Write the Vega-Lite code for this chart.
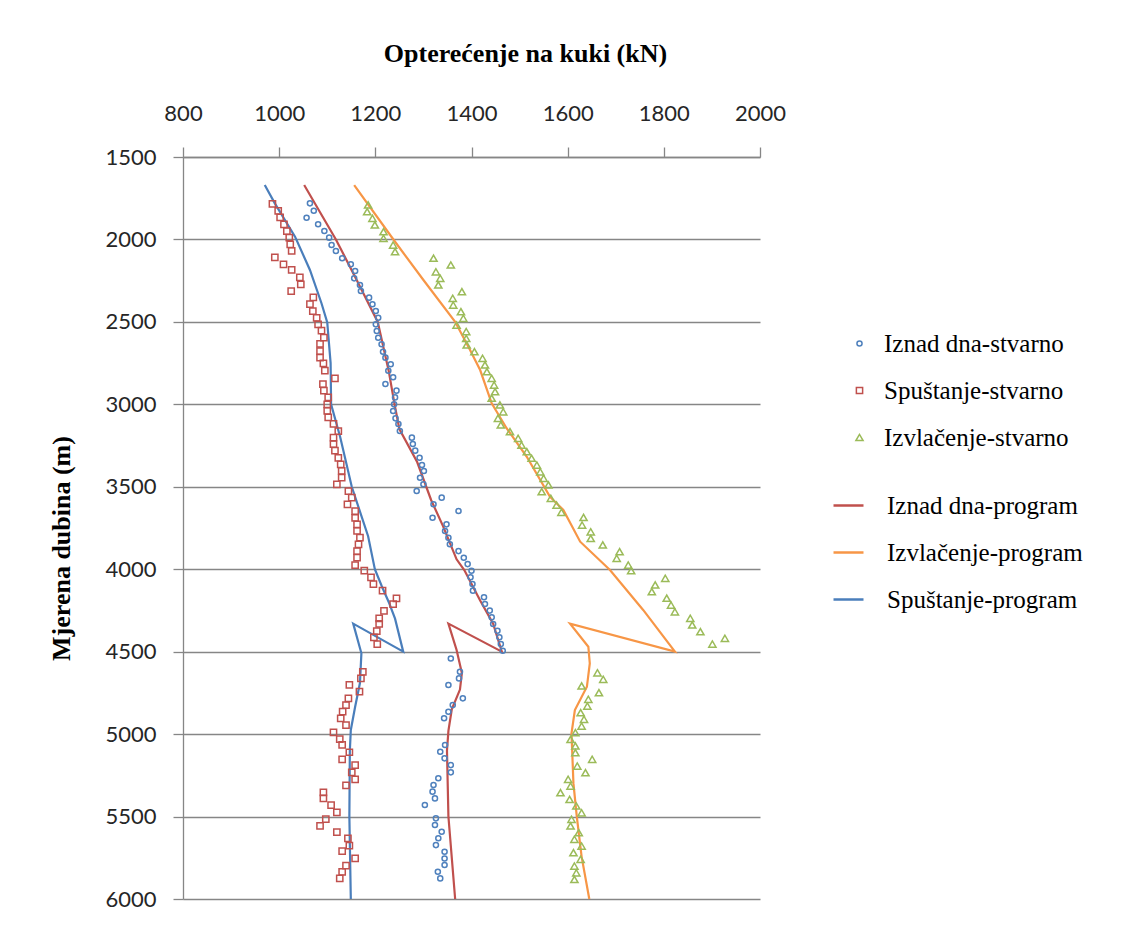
{
  "$schema": "https://vega.github.io/schema/vega-lite/v6.json",
  "autosize": {"type": "none"},
  "width": 577,
  "height": 742,
  "padding": {"left": 183, "top": 157, "right": 376, "bottom": 39},
  "background": "white",
  "config": {
    "view": {"stroke": null},
    "axis": {
      "domainColor": "#868686", "tickColor": "#868686", "gridColor": "#868686",
      "domainWidth": 1.3, "tickWidth": 1.3, "gridWidth": 1.3, "tickSize": 10,
      "labelFont": "Lato", "labelFontSize": 22, "labelColor": "#262626",
      "titleFont": "Liberation Serif", "titleFontSize": 26, "titleFontWeight": "bold", "titleColor": "black"
    },
    "legend": {
      "orient": "none", "padding": 0,
      "labelFont": "Liberation Serif", "labelFontSize": 25, "labelColor": "black", "labelLimit": 0,
      "labelOffset": 22
    }
  },
  "resolve": {
    "scale": {"color": "independent", "shape": "independent", "size": "independent"},
    "legend": {"color": "independent", "shape": "independent"}
  },
  "datasets": {
    "stvarno": [
      {"serija": "Iznad dna-stvarno", "opterecenje": 1064, "dubina": 1781},
      {"serija": "Iznad dna-stvarno", "opterecenje": 1072, "dubina": 1826},
      {"serija": "Iznad dna-stvarno", "opterecenje": 1057, "dubina": 1868},
      {"serija": "Iznad dna-stvarno", "opterecenje": 1081, "dubina": 1908},
      {"serija": "Iznad dna-stvarno", "opterecenje": 1094, "dubina": 1949},
      {"serija": "Iznad dna-stvarno", "opterecenje": 1104, "dubina": 1989},
      {"serija": "Iznad dna-stvarno", "opterecenje": 1109, "dubina": 2034},
      {"serija": "Iznad dna-stvarno", "opterecenje": 1118, "dubina": 2070},
      {"serija": "Iznad dna-stvarno", "opterecenje": 1131, "dubina": 2114},
      {"serija": "Iznad dna-stvarno", "opterecenje": 1149, "dubina": 2151},
      {"serija": "Iznad dna-stvarno", "opterecenje": 1158, "dubina": 2191},
      {"serija": "Iznad dna-stvarno", "opterecenje": 1156, "dubina": 2236},
      {"serija": "Iznad dna-stvarno", "opterecenje": 1168, "dubina": 2276},
      {"serija": "Iznad dna-stvarno", "opterecenje": 1170, "dubina": 2313},
      {"serija": "Iznad dna-stvarno", "opterecenje": 1187, "dubina": 2353},
      {"serija": "Iznad dna-stvarno", "opterecenje": 1194, "dubina": 2393},
      {"serija": "Iznad dna-stvarno", "opterecenje": 1201, "dubina": 2434},
      {"serija": "Iznad dna-stvarno", "opterecenje": 1206, "dubina": 2475},
      {"serija": "Iznad dna-stvarno", "opterecenje": 1201, "dubina": 2515},
      {"serija": "Iznad dna-stvarno", "opterecenje": 1203, "dubina": 2555},
      {"serija": "Iznad dna-stvarno", "opterecenje": 1206, "dubina": 2596},
      {"serija": "Iznad dna-stvarno", "opterecenje": 1213, "dubina": 2636},
      {"serija": "Iznad dna-stvarno", "opterecenje": 1216, "dubina": 2681},
      {"serija": "Iznad dna-stvarno", "opterecenje": 1221, "dubina": 2717},
      {"serija": "Iznad dna-stvarno", "opterecenje": 1232, "dubina": 2757},
      {"serija": "Iznad dna-stvarno", "opterecenje": 1227, "dubina": 2796},
      {"serija": "Iznad dna-stvarno", "opterecenje": 1237, "dubina": 2836},
      {"serija": "Iznad dna-stvarno", "opterecenje": 1221, "dubina": 2877},
      {"serija": "Iznad dna-stvarno", "opterecenje": 1244, "dubina": 2917},
      {"serija": "Iznad dna-stvarno", "opterecenje": 1241, "dubina": 2958},
      {"serija": "Iznad dna-stvarno", "opterecenje": 1239, "dubina": 3000},
      {"serija": "Iznad dna-stvarno", "opterecenje": 1237, "dubina": 3040},
      {"serija": "Iznad dna-stvarno", "opterecenje": 1242, "dubina": 3085},
      {"serija": "Iznad dna-stvarno", "opterecenje": 1248, "dubina": 3119},
      {"serija": "Iznad dna-stvarno", "opterecenje": 1251, "dubina": 3162},
      {"serija": "Iznad dna-stvarno", "opterecenje": 1276, "dubina": 3202},
      {"serija": "Iznad dna-stvarno", "opterecenje": 1278, "dubina": 3241},
      {"serija": "Iznad dna-stvarno", "opterecenje": 1283, "dubina": 3281},
      {"serija": "Iznad dna-stvarno", "opterecenje": 1292, "dubina": 3324},
      {"serija": "Iznad dna-stvarno", "opterecenje": 1297, "dubina": 3368},
      {"serija": "Iznad dna-stvarno", "opterecenje": 1301, "dubina": 3404},
      {"serija": "Iznad dna-stvarno", "opterecenje": 1293, "dubina": 3445},
      {"serija": "Iznad dna-stvarno", "opterecenje": 1300, "dubina": 3485},
      {"serija": "Iznad dna-stvarno", "opterecenje": 1286, "dubina": 3526},
      {"serija": "Iznad dna-stvarno", "opterecenje": 1338, "dubina": 3566},
      {"serija": "Iznad dna-stvarno", "opterecenje": 1321, "dubina": 3606},
      {"serija": "Iznad dna-stvarno", "opterecenje": 1373, "dubina": 3647},
      {"serija": "Iznad dna-stvarno", "opterecenje": 1319, "dubina": 3688},
      {"serija": "Iznad dna-stvarno", "opterecenje": 1348, "dubina": 3728},
      {"serija": "Iznad dna-stvarno", "opterecenje": 1345, "dubina": 3768},
      {"serija": "Iznad dna-stvarno", "opterecenje": 1352, "dubina": 3809},
      {"serija": "Iznad dna-stvarno", "opterecenje": 1355, "dubina": 3849},
      {"serija": "Iznad dna-stvarno", "opterecenje": 1373, "dubina": 3890},
      {"serija": "Iznad dna-stvarno", "opterecenje": 1384, "dubina": 3930},
      {"serija": "Iznad dna-stvarno", "opterecenje": 1392, "dubina": 3969},
      {"serija": "Iznad dna-stvarno", "opterecenje": 1400, "dubina": 4009},
      {"serija": "Iznad dna-stvarno", "opterecenje": 1398, "dubina": 4049},
      {"serija": "Iznad dna-stvarno", "opterecenje": 1402, "dubina": 4090},
      {"serija": "Iznad dna-stvarno", "opterecenje": 1403, "dubina": 4130},
      {"serija": "Iznad dna-stvarno", "opterecenje": 1426, "dubina": 4170},
      {"serija": "Iznad dna-stvarno", "opterecenje": 1428, "dubina": 4211},
      {"serija": "Iznad dna-stvarno", "opterecenje": 1438, "dubina": 4251},
      {"serija": "Iznad dna-stvarno", "opterecenje": 1442, "dubina": 4292},
      {"serija": "Iznad dna-stvarno", "opterecenje": 1445, "dubina": 4332},
      {"serija": "Iznad dna-stvarno", "opterecenje": 1454, "dubina": 4373},
      {"serija": "Iznad dna-stvarno", "opterecenje": 1458, "dubina": 4413},
      {"serija": "Iznad dna-stvarno", "opterecenje": 1461, "dubina": 4454},
      {"serija": "Iznad dna-stvarno", "opterecenje": 1465, "dubina": 4494},
      {"serija": "Iznad dna-stvarno", "opterecenje": 1357, "dubina": 4541},
      {"serija": "Iznad dna-stvarno", "opterecenje": 1376, "dubina": 4622},
      {"serija": "Iznad dna-stvarno", "opterecenje": 1374, "dubina": 4662},
      {"serija": "Iznad dna-stvarno", "opterecenje": 1352, "dubina": 4702},
      {"serija": "Iznad dna-stvarno", "opterecenje": 1382, "dubina": 4783},
      {"serija": "Iznad dna-stvarno", "opterecenje": 1361, "dubina": 4824},
      {"serija": "Iznad dna-stvarno", "opterecenje": 1352, "dubina": 4864},
      {"serija": "Iznad dna-stvarno", "opterecenje": 1343, "dubina": 4904},
      {"serija": "Iznad dna-stvarno", "opterecenje": 1345, "dubina": 5066},
      {"serija": "Iznad dna-stvarno", "opterecenje": 1335, "dubina": 5107},
      {"serija": "Iznad dna-stvarno", "opterecenje": 1344, "dubina": 5147},
      {"serija": "Iznad dna-stvarno", "opterecenje": 1357, "dubina": 5188},
      {"serija": "Iznad dna-stvarno", "opterecenje": 1357, "dubina": 5232},
      {"serija": "Iznad dna-stvarno", "opterecenje": 1331, "dubina": 5268},
      {"serija": "Iznad dna-stvarno", "opterecenje": 1321, "dubina": 5309},
      {"serija": "Iznad dna-stvarno", "opterecenje": 1319, "dubina": 5349},
      {"serija": "Iznad dna-stvarno", "opterecenje": 1324, "dubina": 5390},
      {"serija": "Iznad dna-stvarno", "opterecenje": 1303, "dubina": 5430},
      {"serija": "Iznad dna-stvarno", "opterecenje": 1326, "dubina": 5511},
      {"serija": "Iznad dna-stvarno", "opterecenje": 1324, "dubina": 5551},
      {"serija": "Iznad dna-stvarno", "opterecenje": 1338, "dubina": 5592},
      {"serija": "Iznad dna-stvarno", "opterecenje": 1331, "dubina": 5632},
      {"serija": "Iznad dna-stvarno", "opterecenje": 1326, "dubina": 5673},
      {"serija": "Iznad dna-stvarno", "opterecenje": 1344, "dubina": 5713},
      {"serija": "Iznad dna-stvarno", "opterecenje": 1344, "dubina": 5754},
      {"serija": "Iznad dna-stvarno", "opterecenje": 1344, "dubina": 5794},
      {"serija": "Iznad dna-stvarno", "opterecenje": 1330, "dubina": 5835},
      {"serija": "Iznad dna-stvarno", "opterecenje": 1335, "dubina": 5875},

      {"serija": "Spuštanje-stvarno", "opterecenje": 986, "dubina": 1785},
      {"serija": "Spuštanje-stvarno", "opterecenje": 998, "dubina": 1826},
      {"serija": "Spuštanje-stvarno", "opterecenje": 1002, "dubina": 1866},
      {"serija": "Spuštanje-stvarno", "opterecenje": 1010, "dubina": 1908},
      {"serija": "Spuštanje-stvarno", "opterecenje": 1016, "dubina": 1949},
      {"serija": "Spuštanje-stvarno", "opterecenje": 1021, "dubina": 1989},
      {"serija": "Spuštanje-stvarno", "opterecenje": 1023, "dubina": 2030},
      {"serija": "Spuštanje-stvarno", "opterecenje": 1026, "dubina": 2070},
      {"serija": "Spuštanje-stvarno", "opterecenje": 991, "dubina": 2108},
      {"serija": "Spuštanje-stvarno", "opterecenje": 1009, "dubina": 2151},
      {"serija": "Spuštanje-stvarno", "opterecenje": 1026, "dubina": 2185},
      {"serija": "Spuštanje-stvarno", "opterecenje": 1043, "dubina": 2230},
      {"serija": "Spuštanje-stvarno", "opterecenje": 1045, "dubina": 2272},
      {"serija": "Spuštanje-stvarno", "opterecenje": 1025, "dubina": 2313},
      {"serija": "Spuštanje-stvarno", "opterecenje": 1071, "dubina": 2351},
      {"serija": "Spuštanje-stvarno", "opterecenje": 1064, "dubina": 2393},
      {"serija": "Spuštanje-stvarno", "opterecenje": 1070, "dubina": 2434},
      {"serija": "Spuštanje-stvarno", "opterecenje": 1078, "dubina": 2475},
      {"serija": "Spuštanje-stvarno", "opterecenje": 1081, "dubina": 2515},
      {"serija": "Spuštanje-stvarno", "opterecenje": 1088, "dubina": 2553},
      {"serija": "Spuštanje-stvarno", "opterecenje": 1093, "dubina": 2596},
      {"serija": "Spuštanje-stvarno", "opterecenje": 1085, "dubina": 2634},
      {"serija": "Spuštanje-stvarno", "opterecenje": 1085, "dubina": 2677},
      {"serija": "Spuštanje-stvarno", "opterecenje": 1085, "dubina": 2717},
      {"serija": "Spuštanje-stvarno", "opterecenje": 1092, "dubina": 2751},
      {"serija": "Spuštanje-stvarno", "opterecenje": 1095, "dubina": 2796},
      {"serija": "Spuštanje-stvarno", "opterecenje": 1116, "dubina": 2842},
      {"serija": "Spuštanje-stvarno", "opterecenje": 1091, "dubina": 2877},
      {"serija": "Spuštanje-stvarno", "opterecenje": 1093, "dubina": 2917},
      {"serija": "Spuštanje-stvarno", "opterecenje": 1102, "dubina": 2958},
      {"serija": "Spuštanje-stvarno", "opterecenje": 1100, "dubina": 3000},
      {"serija": "Spuštanje-stvarno", "opterecenje": 1100, "dubina": 3040},
      {"serija": "Spuštanje-stvarno", "opterecenje": 1102, "dubina": 3079},
      {"serija": "Spuštanje-stvarno", "opterecenje": 1113, "dubina": 3119},
      {"serija": "Spuštanje-stvarno", "opterecenje": 1123, "dubina": 3162},
      {"serija": "Spuštanje-stvarno", "opterecenje": 1113, "dubina": 3202},
      {"serija": "Spuštanje-stvarno", "opterecenje": 1113, "dubina": 3241},
      {"serija": "Spuštanje-stvarno", "opterecenje": 1116, "dubina": 3281},
      {"serija": "Spuštanje-stvarno", "opterecenje": 1123, "dubina": 3324},
      {"serija": "Spuštanje-stvarno", "opterecenje": 1128, "dubina": 3364},
      {"serija": "Spuštanje-stvarno", "opterecenje": 1130, "dubina": 3404},
      {"serija": "Spuštanje-stvarno", "opterecenje": 1130, "dubina": 3445},
      {"serija": "Spuštanje-stvarno", "opterecenje": 1120, "dubina": 3485},
      {"serija": "Spuštanje-stvarno", "opterecenje": 1144, "dubina": 3526},
      {"serija": "Spuštanje-stvarno", "opterecenje": 1151, "dubina": 3566},
      {"serija": "Spuštanje-stvarno", "opterecenje": 1142, "dubina": 3606},
      {"serija": "Spuštanje-stvarno", "opterecenje": 1158, "dubina": 3647},
      {"serija": "Spuštanje-stvarno", "opterecenje": 1158, "dubina": 3688},
      {"serija": "Spuštanje-stvarno", "opterecenje": 1162, "dubina": 3728},
      {"serija": "Spuštanje-stvarno", "opterecenje": 1162, "dubina": 3768},
      {"serija": "Spuštanje-stvarno", "opterecenje": 1168, "dubina": 3809},
      {"serija": "Spuštanje-stvarno", "opterecenje": 1165, "dubina": 3849},
      {"serija": "Spuštanje-stvarno", "opterecenje": 1162, "dubina": 3890},
      {"serija": "Spuštanje-stvarno", "opterecenje": 1162, "dubina": 3930},
      {"serija": "Spuštanje-stvarno", "opterecenje": 1158, "dubina": 3975},
      {"serija": "Spuštanje-stvarno", "opterecenje": 1177, "dubina": 4009},
      {"serija": "Spuštanje-stvarno", "opterecenje": 1191, "dubina": 4049},
      {"serija": "Spuštanje-stvarno", "opterecenje": 1196, "dubina": 4090},
      {"serija": "Spuštanje-stvarno", "opterecenje": 1215, "dubina": 4130},
      {"serija": "Spuštanje-stvarno", "opterecenje": 1244, "dubina": 4177},
      {"serija": "Spuštanje-stvarno", "opterecenje": 1237, "dubina": 4211},
      {"serija": "Spuštanje-stvarno", "opterecenje": 1218, "dubina": 4253},
      {"serija": "Spuštanje-stvarno", "opterecenje": 1208, "dubina": 4298},
      {"serija": "Spuštanje-stvarno", "opterecenje": 1208, "dubina": 4332},
      {"serija": "Spuštanje-stvarno", "opterecenje": 1203, "dubina": 4375},
      {"serija": "Spuštanje-stvarno", "opterecenje": 1197, "dubina": 4413},
      {"serija": "Spuštanje-stvarno", "opterecenje": 1204, "dubina": 4455},
      {"serija": "Spuštanje-stvarno", "opterecenje": 1174, "dubina": 4622},
      {"serija": "Spuštanje-stvarno", "opterecenje": 1170, "dubina": 4662},
      {"serija": "Spuštanje-stvarno", "opterecenje": 1146, "dubina": 4702},
      {"serija": "Spuštanje-stvarno", "opterecenje": 1167, "dubina": 4743},
      {"serija": "Spuštanje-stvarno", "opterecenje": 1144, "dubina": 4783},
      {"serija": "Spuštanje-stvarno", "opterecenje": 1139, "dubina": 4824},
      {"serija": "Spuštanje-stvarno", "opterecenje": 1132, "dubina": 4864},
      {"serija": "Spuštanje-stvarno", "opterecenje": 1128, "dubina": 4904},
      {"serija": "Spuštanje-stvarno", "opterecenje": 1139, "dubina": 4945},
      {"serija": "Spuštanje-stvarno", "opterecenje": 1113, "dubina": 4989},
      {"serija": "Spuštanje-stvarno", "opterecenje": 1126, "dubina": 5030},
      {"serija": "Spuštanje-stvarno", "opterecenje": 1131, "dubina": 5066},
      {"serija": "Spuštanje-stvarno", "opterecenje": 1146, "dubina": 5110},
      {"serija": "Spuštanje-stvarno", "opterecenje": 1131, "dubina": 5153},
      {"serija": "Spuštanje-stvarno", "opterecenje": 1158, "dubina": 5188},
      {"serija": "Spuštanje-stvarno", "opterecenje": 1151, "dubina": 5232},
      {"serija": "Spuštanje-stvarno", "opterecenje": 1158, "dubina": 5274},
      {"serija": "Spuštanje-stvarno", "opterecenje": 1139, "dubina": 5311},
      {"serija": "Spuštanje-stvarno", "opterecenje": 1092, "dubina": 5353},
      {"serija": "Spuštanje-stvarno", "opterecenje": 1092, "dubina": 5390},
      {"serija": "Spuštanje-stvarno", "opterecenje": 1108, "dubina": 5430},
      {"serija": "Spuštanje-stvarno", "opterecenje": 1120, "dubina": 5475},
      {"serija": "Spuštanje-stvarno", "opterecenje": 1097, "dubina": 5515},
      {"serija": "Spuštanje-stvarno", "opterecenje": 1085, "dubina": 5556},
      {"serija": "Spuštanje-stvarno", "opterecenje": 1120, "dubina": 5594},
      {"serija": "Spuštanje-stvarno", "opterecenje": 1143, "dubina": 5632},
      {"serija": "Spuštanje-stvarno", "opterecenje": 1146, "dubina": 5677},
      {"serija": "Spuštanje-stvarno", "opterecenje": 1131, "dubina": 5709},
      {"serija": "Spuštanje-stvarno", "opterecenje": 1158, "dubina": 5754},
      {"serija": "Spuštanje-stvarno", "opterecenje": 1139, "dubina": 5798},
      {"serija": "Spuštanje-stvarno", "opterecenje": 1131, "dubina": 5835},
      {"serija": "Spuštanje-stvarno", "opterecenje": 1126, "dubina": 5875},

      {"serija": "Izvlačenje-stvarno", "opterecenje": 1185, "dubina": 1791},
      {"serija": "Izvlačenje-stvarno", "opterecenje": 1183, "dubina": 1832},
      {"serija": "Izvlačenje-stvarno", "opterecenje": 1194, "dubina": 1872},
      {"serija": "Izvlačenje-stvarno", "opterecenje": 1199, "dubina": 1912},
      {"serija": "Izvlačenje-stvarno", "opterecenje": 1217, "dubina": 1953},
      {"serija": "Izvlačenje-stvarno", "opterecenje": 1217, "dubina": 1993},
      {"serija": "Izvlačenje-stvarno", "opterecenje": 1237, "dubina": 2034},
      {"serija": "Izvlačenje-stvarno", "opterecenje": 1241, "dubina": 2074},
      {"serija": "Izvlačenje-stvarno", "opterecenje": 1321, "dubina": 2114},
      {"serija": "Izvlačenje-stvarno", "opterecenje": 1357, "dubina": 2155},
      {"serija": "Izvlačenje-stvarno", "opterecenje": 1326, "dubina": 2196},
      {"serija": "Izvlačenje-stvarno", "opterecenje": 1335, "dubina": 2236},
      {"serija": "Izvlačenje-stvarno", "opterecenje": 1331, "dubina": 2276},
      {"serija": "Izvlačenje-stvarno", "opterecenje": 1380, "dubina": 2317},
      {"serija": "Izvlačenje-stvarno", "opterecenje": 1361, "dubina": 2357},
      {"serija": "Izvlačenje-stvarno", "opterecenje": 1362, "dubina": 2398},
      {"serija": "Izvlačenje-stvarno", "opterecenje": 1378, "dubina": 2438},
      {"serija": "Izvlačenje-stvarno", "opterecenje": 1383, "dubina": 2478},
      {"serija": "Izvlačenje-stvarno", "opterecenje": 1369, "dubina": 2519},
      {"serija": "Izvlačenje-stvarno", "opterecenje": 1389, "dubina": 2559},
      {"serija": "Izvlačenje-stvarno", "opterecenje": 1389, "dubina": 2600},
      {"serija": "Izvlačenje-stvarno", "opterecenje": 1390, "dubina": 2640},
      {"serija": "Izvlačenje-stvarno", "opterecenje": 1406, "dubina": 2681},
      {"serija": "Izvlačenje-stvarno", "opterecenje": 1423, "dubina": 2721},
      {"serija": "Izvlačenje-stvarno", "opterecenje": 1428, "dubina": 2761},
      {"serija": "Izvlačenje-stvarno", "opterecenje": 1432, "dubina": 2802},
      {"serija": "Izvlačenje-stvarno", "opterecenje": 1442, "dubina": 2842},
      {"serija": "Izvlačenje-stvarno", "opterecenje": 1447, "dubina": 2883},
      {"serija": "Izvlačenje-stvarno", "opterecenje": 1449, "dubina": 2923},
      {"serija": "Izvlačenje-stvarno", "opterecenje": 1442, "dubina": 2963},
      {"serija": "Izvlačenje-stvarno", "opterecenje": 1459, "dubina": 3004},
      {"serija": "Izvlačenje-stvarno", "opterecenje": 1466, "dubina": 3045},
      {"serija": "Izvlačenje-stvarno", "opterecenje": 1455, "dubina": 3085},
      {"serija": "Izvlačenje-stvarno", "opterecenje": 1461, "dubina": 3125},
      {"serija": "Izvlačenje-stvarno", "opterecenje": 1480, "dubina": 3166},
      {"serija": "Izvlačenje-stvarno", "opterecenje": 1497, "dubina": 3206},
      {"serija": "Izvlačenje-stvarno", "opterecenje": 1504, "dubina": 3247},
      {"serija": "Izvlačenje-stvarno", "opterecenje": 1515, "dubina": 3287},
      {"serija": "Izvlačenje-stvarno", "opterecenje": 1525, "dubina": 3327},
      {"serija": "Izvlačenje-stvarno", "opterecenje": 1536, "dubina": 3368},
      {"serija": "Izvlačenje-stvarno", "opterecenje": 1543, "dubina": 3409},
      {"serija": "Izvlačenje-stvarno", "opterecenje": 1550, "dubina": 3449},
      {"serija": "Izvlačenje-stvarno", "opterecenje": 1560, "dubina": 3489},
      {"serija": "Izvlačenje-stvarno", "opterecenje": 1546, "dubina": 3530},
      {"serija": "Izvlačenje-stvarno", "opterecenje": 1565, "dubina": 3570},
      {"serija": "Izvlačenje-stvarno", "opterecenje": 1577, "dubina": 3611},
      {"serija": "Izvlačenje-stvarno", "opterecenje": 1587, "dubina": 3655},
      {"serija": "Izvlačenje-stvarno", "opterecenje": 1633, "dubina": 3686},
      {"serija": "Izvlačenje-stvarno", "opterecenje": 1630, "dubina": 3732},
      {"serija": "Izvlačenje-stvarno", "opterecenje": 1648, "dubina": 3773},
      {"serija": "Izvlačenje-stvarno", "opterecenje": 1648, "dubina": 3813},
      {"serija": "Izvlačenje-stvarno", "opterecenje": 1673, "dubina": 3853},
      {"serija": "Izvlačenje-stvarno", "opterecenje": 1708, "dubina": 3894},
      {"serija": "Izvlačenje-stvarno", "opterecenje": 1702, "dubina": 3934},
      {"serija": "Izvlačenje-stvarno", "opterecenje": 1726, "dubina": 3975},
      {"serija": "Izvlačenje-stvarno", "opterecenje": 1732, "dubina": 4009},
      {"serija": "Izvlačenje-stvarno", "opterecenje": 1803, "dubina": 4055},
      {"serija": "Izvlačenje-stvarno", "opterecenje": 1782, "dubina": 4095},
      {"serija": "Izvlačenje-stvarno", "opterecenje": 1775, "dubina": 4136},
      {"serija": "Izvlačenje-stvarno", "opterecenje": 1806, "dubina": 4176},
      {"serija": "Izvlačenje-stvarno", "opterecenje": 1815, "dubina": 4217},
      {"serija": "Izvlačenje-stvarno", "opterecenje": 1823, "dubina": 4258},
      {"serija": "Izvlačenje-stvarno", "opterecenje": 1855, "dubina": 4298},
      {"serija": "Izvlačenje-stvarno", "opterecenje": 1859, "dubina": 4338},
      {"serija": "Izvlačenje-stvarno", "opterecenje": 1876, "dubina": 4379},
      {"serija": "Izvlačenje-stvarno", "opterecenje": 1927, "dubina": 4419},
      {"serija": "Izvlačenje-stvarno", "opterecenje": 1901, "dubina": 4454},
      {"serija": "Izvlačenje-stvarno", "opterecenje": 1662, "dubina": 4628},
      {"serija": "Izvlačenje-stvarno", "opterecenje": 1674, "dubina": 4668},
      {"serija": "Izvlačenje-stvarno", "opterecenje": 1629, "dubina": 4708},
      {"serija": "Izvlačenje-stvarno", "opterecenje": 1665, "dubina": 4749},
      {"serija": "Izvlačenje-stvarno", "opterecenje": 1643, "dubina": 4789},
      {"serija": "Izvlačenje-stvarno", "opterecenje": 1641, "dubina": 4830},
      {"serija": "Izvlačenje-stvarno", "opterecenje": 1627, "dubina": 4870},
      {"serija": "Izvlačenje-stvarno", "opterecenje": 1634, "dubina": 4910},
      {"serija": "Izvlačenje-stvarno", "opterecenje": 1629, "dubina": 4951},
      {"serija": "Izvlačenje-stvarno", "opterecenje": 1616, "dubina": 4991},
      {"serija": "Izvlačenje-stvarno", "opterecenje": 1606, "dubina": 5032},
      {"serija": "Izvlačenje-stvarno", "opterecenje": 1616, "dubina": 5072},
      {"serija": "Izvlačenje-stvarno", "opterecenje": 1616, "dubina": 5113},
      {"serija": "Izvlačenje-stvarno", "opterecenje": 1651, "dubina": 5153},
      {"serija": "Izvlačenje-stvarno", "opterecenje": 1620, "dubina": 5194},
      {"serija": "Izvlačenje-stvarno", "opterecenje": 1637, "dubina": 5234},
      {"serija": "Izvlačenje-stvarno", "opterecenje": 1601, "dubina": 5274},
      {"serija": "Izvlačenje-stvarno", "opterecenje": 1606, "dubina": 5315},
      {"serija": "Izvlačenje-stvarno", "opterecenje": 1585, "dubina": 5355},
      {"serija": "Izvlačenje-stvarno", "opterecenje": 1604, "dubina": 5396},
      {"serija": "Izvlačenje-stvarno", "opterecenje": 1618, "dubina": 5436},
      {"serija": "Izvlačenje-stvarno", "opterecenje": 1629, "dubina": 5477},
      {"serija": "Izvlačenje-stvarno", "opterecenje": 1608, "dubina": 5517},
      {"serija": "Izvlačenje-stvarno", "opterecenje": 1606, "dubina": 5557},
      {"serija": "Izvlačenje-stvarno", "opterecenje": 1623, "dubina": 5598},
      {"serija": "Izvlačenje-stvarno", "opterecenje": 1614, "dubina": 5638},
      {"serija": "Izvlačenje-stvarno", "opterecenje": 1629, "dubina": 5679},
      {"serija": "Izvlačenje-stvarno", "opterecenje": 1612, "dubina": 5719},
      {"serija": "Izvlačenje-stvarno", "opterecenje": 1627, "dubina": 5759},
      {"serija": "Izvlačenje-stvarno", "opterecenje": 1614, "dubina": 5800},
      {"serija": "Izvlačenje-stvarno", "opterecenje": 1618, "dubina": 5841},
      {"serija": "Izvlačenje-stvarno", "opterecenje": 1614, "dubina": 5881}
    ],
    "program": [
      {"serija": "Iznad dna-program", "opterecenje": 1052, "dubina": 1670},
      {"serija": "Iznad dna-program", "opterecenje": 1085, "dubina": 1835},
      {"serija": "Iznad dna-program", "opterecenje": 1118, "dubina": 2000},
      {"serija": "Iznad dna-program", "opterecenje": 1162, "dubina": 2250},
      {"serija": "Iznad dna-program", "opterecenje": 1205, "dubina": 2500},
      {"serija": "Iznad dna-program", "opterecenje": 1228, "dubina": 2800},
      {"serija": "Iznad dna-program", "opterecenje": 1240, "dubina": 3000},
      {"serija": "Iznad dna-program", "opterecenje": 1250, "dubina": 3150},
      {"serija": "Iznad dna-program", "opterecenje": 1287, "dubina": 3350},
      {"serija": "Iznad dna-program", "opterecenje": 1316, "dubina": 3580},
      {"serija": "Iznad dna-program", "opterecenje": 1341, "dubina": 3740},
      {"serija": "Iznad dna-program", "opterecenje": 1369, "dubina": 3940},
      {"serija": "Iznad dna-program", "opterecenje": 1385, "dubina": 4005},
      {"serija": "Iznad dna-program", "opterecenje": 1418, "dubina": 4190},
      {"serija": "Iznad dna-program", "opterecenje": 1445, "dubina": 4330},
      {"serija": "Iznad dna-program", "opterecenje": 1463, "dubina": 4500},
      {"serija": "Iznad dna-program", "opterecenje": 1352, "dubina": 4330},
      {"serija": "Iznad dna-program", "opterecenje": 1369, "dubina": 4490},
      {"serija": "Iznad dna-program", "opterecenje": 1380, "dubina": 4630},
      {"serija": "Iznad dna-program", "opterecenje": 1376, "dubina": 4730},
      {"serija": "Iznad dna-program", "opterecenje": 1359, "dubina": 4850},
      {"serija": "Iznad dna-program", "opterecenje": 1352, "dubina": 4980},
      {"serija": "Iznad dna-program", "opterecenje": 1349, "dubina": 5100},
      {"serija": "Iznad dna-program", "opterecenje": 1352, "dubina": 5500},
      {"serija": "Iznad dna-program", "opterecenje": 1366, "dubina": 6000},

      {"serija": "Izvlačenje-program", "opterecenje": 1156, "dubina": 1670},
      {"serija": "Izvlačenje-program", "opterecenje": 1241, "dubina": 2014},
      {"serija": "Izvlačenje-program", "opterecenje": 1300, "dubina": 2246},
      {"serija": "Izvlačenje-program", "opterecenje": 1366, "dubina": 2499},
      {"serija": "Izvlačenje-program", "opterecenje": 1397, "dubina": 2671},
      {"serija": "Izvlačenje-program", "opterecenje": 1418, "dubina": 2792},
      {"serija": "Izvlačenje-program", "opterecenje": 1442, "dubina": 2994},
      {"serija": "Izvlačenje-program", "opterecenje": 1473, "dubina": 3145},
      {"serija": "Izvlačenje-program", "opterecenje": 1515, "dubina": 3318},
      {"serija": "Izvlačenje-program", "opterecenje": 1563, "dubina": 3560},
      {"serija": "Izvlačenje-program", "opterecenje": 1591, "dubina": 3641},
      {"serija": "Izvlačenje-program", "opterecenje": 1626, "dubina": 3833},
      {"serija": "Izvlačenje-program", "opterecenje": 1688, "dubina": 4005},
      {"serija": "Izvlačenje-program", "opterecenje": 1757, "dubina": 4247},
      {"serija": "Izvlačenje-program", "opterecenje": 1823, "dubina": 4500},
      {"serija": "Izvlačenje-program", "opterecenje": 1605, "dubina": 4330},
      {"serija": "Izvlačenje-program", "opterecenje": 1643, "dubina": 4470},
      {"serija": "Izvlačenje-program", "opterecenje": 1646, "dubina": 4571},
      {"serija": "Izvlačenje-program", "opterecenje": 1640, "dubina": 4713},
      {"serija": "Izvlačenje-program", "opterecenje": 1615, "dubina": 4854},
      {"serija": "Izvlačenje-program", "opterecenje": 1608, "dubina": 4995},
      {"serija": "Izvlačenje-program", "opterecenje": 1612, "dubina": 5299},
      {"serija": "Izvlačenje-program", "opterecenje": 1619, "dubina": 5501},
      {"serija": "Izvlačenje-program", "opterecenje": 1629, "dubina": 5743},
      {"serija": "Izvlačenje-program", "opterecenje": 1645, "dubina": 6000},

      {"serija": "Spuštanje-program", "opterecenje": 970, "dubina": 1670},
      {"serija": "Spuštanje-program", "opterecenje": 991, "dubina": 1781},
      {"serija": "Spuštanje-program", "opterecenje": 1033, "dubina": 1983},
      {"serija": "Spuštanje-program", "opterecenje": 1064, "dubina": 2185},
      {"serija": "Spuštanje-program", "opterecenje": 1088, "dubina": 2387},
      {"serija": "Spuštanje-program", "opterecenje": 1100, "dubina": 2503},
      {"serija": "Spuštanje-program", "opterecenje": 1107, "dubina": 2750},
      {"serija": "Spuštanje-program", "opterecenje": 1108, "dubina": 3000},
      {"serija": "Spuštanje-program", "opterecenje": 1127, "dubina": 3200},
      {"serija": "Spuštanje-program", "opterecenje": 1151, "dubina": 3500},
      {"serija": "Spuštanje-program", "opterecenje": 1185, "dubina": 3800},
      {"serija": "Spuštanje-program", "opterecenje": 1199, "dubina": 4000},
      {"serija": "Spuštanje-program", "opterecenje": 1213, "dubina": 4100},
      {"serija": "Spuštanje-program", "opterecenje": 1228, "dubina": 4200},
      {"serija": "Spuštanje-program", "opterecenje": 1241, "dubina": 4300},
      {"serija": "Spuštanje-program", "opterecenje": 1258, "dubina": 4500},
      {"serija": "Spuštanje-program", "opterecenje": 1154, "dubina": 4330},
      {"serija": "Spuštanje-program", "opterecenje": 1171, "dubina": 4510},
      {"serija": "Spuštanje-program", "opterecenje": 1168, "dubina": 4690},
      {"serija": "Spuštanje-program", "opterecenje": 1158, "dubina": 4834},
      {"serija": "Spuštanje-program", "opterecenje": 1149, "dubina": 4975},
      {"serija": "Spuštanje-program", "opterecenje": 1147, "dubina": 5100},
      {"serija": "Spuštanje-program", "opterecenje": 1146, "dubina": 5500},
      {"serija": "Spuštanje-program", "opterecenje": 1149, "dubina": 6000}
    ]
  },
  "layer": [
    {
      "data": {"name": "program"},
      "mark": {"type": "line", "strokeWidth": 2.2},
      "encoding": {
        "x": {
          "field": "opterecenje", "type": "quantitative",
          "scale": {"domain": [800, 2000], "nice": false, "zero": false},
          "axis": {
            "orient": "top", "grid": false, "format": "d",
            "values": [800, 1000, 1200, 1400, 1600, 1800, 2000],
            "labelPadding": 22, "labelFlush": false, "labelOverlap": false,
            "title": "Opterećenje na kuki (kN)",
            "titleX": 342, "titleY": -96, "titleAlign": "center", "titleBaseline": "alphabetic", "titleAngle": 0
          }
        },
        "y": {
          "field": "dubina", "type": "quantitative",
          "scale": {"domain": [1500, 6000], "reverse": true, "nice": false, "zero": false},
          "axis": {
            "grid": true, "format": "d",
            "values": [1500, 2000, 2500, 3000, 3500, 4000, 4500, 5000, 5500, 6000],
            "labelPadding": 17, "labelFlush": false, "labelOverlap": false,
            "title": "Mjerena dubina (m)",
            "titleX": -114, "titleY": 391, "titleAngle": -90, "titleAlign": "center", "titleBaseline": "alphabetic"
          }
        },
        "color": {
          "field": "serija", "type": "nominal",
          "scale": {
            "domain": ["Iznad dna-program", "Izvlačenje-program", "Spuštanje-program"],
            "range": ["#C0504D", "#F79646", "#4A7EBB"]
          },
          "legend": {"title": null, "legendX": 649, "legendY": 332, "rowPadding": 17, "symbolType": "stroke", "symbolSize": 900, "symbolStrokeWidth": 2.5}
        },
        "order": {"value": null}
      }
    },
    {
      "data": {"name": "stvarno"},
      "mark": {"type": "point", "filled": false, "strokeWidth": 1.5, "opacity": 1},
      "encoding": {
        "x": {"field": "opterecenje", "type": "quantitative"},
        "y": {"field": "dubina", "type": "quantitative"},
        "color": {
          "field": "serija", "type": "nominal",
          "scale": {
            "domain": ["Iznad dna-stvarno", "Spuštanje-stvarno", "Izvlačenje-stvarno"],
            "range": ["#4F81BD", "#C0504D", "#9BBB59"]
          },
          "legend": {"title": null, "legendX": 664, "legendY": 174, "rowPadding": 21, "labelOffset": 12, "symbolSize": 30, "symbolStrokeWidth": 1.5}
        },
        "shape": {
          "field": "serija", "type": "nominal",
          "scale": {
            "domain": ["Iznad dna-stvarno", "Spuštanje-stvarno", "Izvlačenje-stvarno"],
            "range": ["circle", "square", "triangle-up"]
          },
          "legend": {"title": null, "legendX": 664, "legendY": 174, "rowPadding": 21, "labelOffset": 12, "symbolSize": 30, "symbolStrokeWidth": 1.5}
        },
        "size": {
          "field": "serija", "type": "nominal",
          "scale": {
            "domain": ["Iznad dna-stvarno", "Spuštanje-stvarno", "Izvlačenje-stvarno"],
            "range": [26, 52, 44]
          },
          "legend": null
        }
      }
    }
  ]
}
